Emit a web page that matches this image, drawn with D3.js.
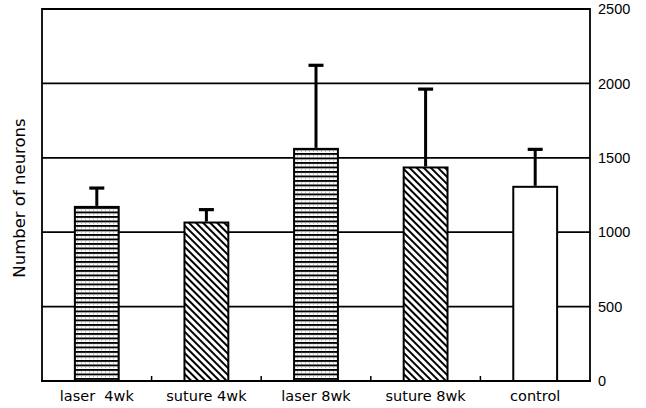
<!DOCTYPE html>
<html>
<head>
<meta charset="utf-8">
<script src="https://cdn.jsdelivr.net/npm/d3@7/dist/d3.min.js"></script>
<style>
  html, body { margin: 0; padding: 0; background: #fff; }
  svg { display: block; }
  .cat { font-family: "DejaVu Sans", "Liberation Sans", sans-serif; font-size: 14.5px; }
  .tick-label { font-family: "Liberation Sans Narrow", "Liberation Sans", Arial, sans-serif; font-size: 14.5px; }
  .ytitle { font-family: "DejaVu Sans", "Liberation Sans", sans-serif; font-size: 16.5px; }
</style>
</head>
<body>
<svg id="chart" width="646" height="408"></svg>
<script>
// Group labels, mean neuron counts and upper error bars
const categories = ["laser  4wk", "suture 4wk", "laser 8wk", "suture 8wk", "control"];
const means = [1170, 1065, 1560, 1435, 1305];
const errorTops = [1300, 1155, 2125, 1965, 1560];
const fills = ["horiz", "diag", "horiz", "diag", "plain"];
const yTicks = [0, 500, 1000, 1500, 2000, 2500];

const W = 646, H = 408;
const margin = { left: 42, right: 56, top: 9, bottom: 27 };
const x0 = margin.left, x1 = W - margin.right;
const yTop = margin.top, yBot = H - margin.bottom;

const svg = d3.select("#chart");

const x = d3.scaleBand().domain(categories).range([x0, x1]).paddingInner(0).paddingOuter(0);
const y = d3.scaleLinear().domain([0, 2500]).range([yBot, yTop]);

// Fill patterns: horizontal stripes with faint dotted rows, and back-diagonal hatching
const defs = svg.append("defs");
const ph = defs.append("pattern").attr("id", "horiz")
  .attr("patternUnits", "userSpaceOnUse").attr("width", 4).attr("height", 4.5);
ph.append("rect").attr("width", 4).attr("height", 4.5).attr("fill", "#fff");
ph.append("rect").attr("y", 0).attr("width", 4).attr("height", 1.9).attr("fill", "#000");
ph.append("rect").attr("x", 1).attr("y", 2.9).attr("width", 1).attr("height", 0.8).attr("fill", "#999");

const pd = defs.append("pattern").attr("id", "diag")
  .attr("patternUnits", "userSpaceOnUse").attr("width", 5).attr("height", 5)
  .attr("patternTransform", "rotate(-45)");
pd.append("rect").attr("width", 5).attr("height", 5).attr("fill", "#fff");
pd.append("rect").attr("x", 0).attr("width", 2).attr("height", 5).attr("fill", "#000");

// Horizontal grid lines, including the top border at 2500
svg.append("g").selectAll("line").data(yTicks.filter(d => d > 0)).join("line")
  .attr("x1", x0).attr("x2", x1)
  .attr("y1", d => y(d)).attr("y2", d => y(d))
  .attr("stroke", "#000").attr("stroke-width", 1.8);

// Bars
const barW = x.bandwidth() * 0.4;
svg.append("g").selectAll("rect").data(categories).join("rect")
  .attr("x", d => x(d) + (x.bandwidth() - barW) / 2)
  .attr("y", (d, i) => y(means[i]))
  .attr("width", barW)
  .attr("height", (d, i) => y(0) - y(means[i]))
  .attr("fill", (d, i) => fills[i] === "plain" ? "#fff" : `url(#${fills[i]})`)
  .attr("stroke", "#000").attr("stroke-width", 2);

// Error bars (upper only)
const eb = svg.append("g");
categories.forEach((c, i) => {
  const cx = x(c) + x.bandwidth() / 2;
  eb.append("line").attr("x1", cx).attr("x2", cx)
    .attr("y1", y(means[i]) - 1).attr("y2", y(errorTops[i]))
    .attr("stroke", "#000").attr("stroke-width", 3);
  eb.append("line").attr("x1", cx - 7.5).attr("x2", cx + 7.5)
    .attr("y1", y(errorTops[i]) + 0.5).attr("y2", y(errorTops[i]) + 0.5)
    .attr("stroke", "#000").attr("stroke-width", 3.2);
});

// Frame: left and right axis lines
svg.append("line").attr("x1", x0).attr("x2", x0).attr("y1", yTop - 0.9).attr("y2", yBot)
  .attr("stroke", "#000").attr("stroke-width", 1.8);
svg.append("line").attr("x1", x1).attr("x2", x1).attr("y1", yTop - 0.9).attr("y2", yBot)
  .attr("stroke", "#000").attr("stroke-width", 1.8);

// Bottom axis with inward ticks at band boundaries
const xAxis = d3.axisBottom(x).tickSize(0).tickPadding(10);
const gx = svg.append("g").attr("transform", `translate(0,${yBot})`).call(xAxis);
gx.select(".domain").attr("stroke", "#000").attr("stroke-width", 2).attr("d", `M${x0 - 1},0H${x1 + 1}`);
gx.selectAll(".tick text").attr("class", "cat").attr("fill", "#000")
  .style("white-space", "pre").attr("dy", "0.71em");
svg.append("g").selectAll("line").data(categories.slice(1)).join("line")
  .attr("x1", d => x(d)).attr("x2", d => x(d))
  .attr("y1", yBot).attr("y2", yBot - 5)
  .attr("stroke", "#000").attr("stroke-width", 1.5);

// Right value axis
const yAxis = d3.axisRight(y).tickValues(yTicks).tickSize(0).tickPadding(8).tickFormat(d3.format("d"));
const gy = svg.append("g").attr("transform", `translate(${x1},0)`).call(yAxis);
gy.select(".domain").remove();
gy.selectAll(".tick text").attr("class", "tick-label").attr("fill", "#000");

// Axis title
svg.append("text").attr("class", "ytitle")
  .attr("transform", `translate(25,${(yTop + yBot) / 2 + 3}) rotate(-90)`)
  .attr("text-anchor", "middle").text("Number of neurons");
</script>
</body>
</html>
